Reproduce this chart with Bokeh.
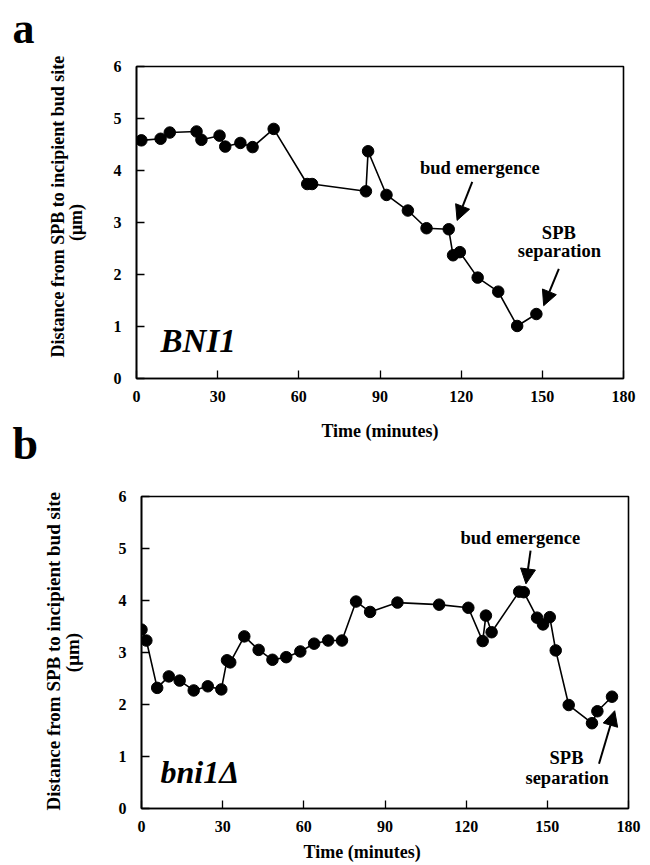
from bokeh.plotting import figure
from bokeh.models import Label, Arrow, NormalHead, FixedTicker, Range1d, Title
from bokeh.layouts import column
from bokeh.embed import file_html
from bokeh.resources import INLINE

FONT = "Liberation Serif"

# ---- data ----
a_time = [1.8, 8.9, 12.3, 22.2, 24.0, 30.7, 32.8, 38.4, 42.9, 50.7, 63.1, 64.9,
          84.8, 85.6, 92.4, 100.3, 107.2, 115.4, 117.0, 119.5, 126.1, 133.7, 140.7, 147.8]
a_dist = [4.58, 4.61, 4.73, 4.75, 4.59, 4.67, 4.46, 4.53, 4.45, 4.80, 3.74, 3.74,
          3.60, 4.37, 3.53, 3.23, 2.89, 2.87, 2.37, 2.43, 1.94, 1.67, 1.01, 1.24]

b_time = [0.0, 1.8, 5.8, 10.1, 14.1, 19.3, 24.5, 29.5, 31.6, 32.8, 38.0, 43.3,
          48.4, 53.5, 58.7, 63.8, 69.0, 74.1, 79.3, 84.5, 94.6, 110.0, 120.8, 126.1,
          127.3, 129.4, 139.6, 141.3, 146.2, 148.4, 150.9, 153.1, 157.9, 166.5, 168.5, 173.9]
b_dist = [3.44, 3.23, 2.32, 2.54, 2.46, 2.27, 2.35, 2.29, 2.85, 2.81, 3.31, 3.05,
          2.86, 2.91, 3.02, 3.17, 3.23, 3.23, 3.98, 3.78, 3.96, 3.92, 3.86, 3.22,
          3.71, 3.39, 4.17, 4.16, 3.67, 3.54, 3.68, 3.04, 1.99, 1.64, 1.87, 2.15]

x_ticks = [0, 30, 60, 90, 120, 150, 180]
y_ticks = [0, 1, 2, 3, 4, 5, 6]

x_label = "Time (minutes)"
y_label_1 = "Distance from SPB to incipient bud site"
y_label_2 = "(\u03bcm)"
a_name = "BNI1"
b_name = "bni1\u0394"
bud_text = "bud emergence"
spb_text = ["SPB", "separation"]


def make_panel(t, d, left, right, top, bottom, unit_size, unit_standoff):
    p = figure(frame_width=487, frame_height=312,
               x_range=Range1d(0, 180), y_range=Range1d(0, 6),
               output_backend="svg", toolbar_location=None,
               min_border_left=left, min_border_right=right,
               min_border_top=top, min_border_bottom=bottom)
    p.grid.visible = False
    p.outline_line_color = "black"
    p.outline_line_width = 1.6
    p.background_fill_color = "white"
    p.border_fill_color = None
    for ax in (p.xaxis[0], p.yaxis[0]):
        ax.axis_line_color = "black"
        ax.axis_line_width = 1.6
        ax.major_tick_in = 8
        ax.major_tick_out = 0
        ax.major_tick_line_width = 1.3
        ax.minor_tick_line_color = None
        ax.major_label_text_font = FONT
        ax.major_label_text_font_style = "bold"
        ax.major_label_text_font_size = "16px"
        ax.major_label_text_color = "black"
    p.xaxis[0].ticker = FixedTicker(ticks=x_ticks)
    p.yaxis[0].ticker = FixedTicker(ticks=y_ticks)
    p.xaxis[0].major_label_standoff = 12
    p.yaxis[0].major_label_standoff = 15
    yax = p.yaxis[0]
    yax.axis_label = y_label_2
    yax.axis_label_standoff = unit_standoff
    yax.axis_label_text_font = FONT
    yax.axis_label_text_font_style = "bold"
    yax.axis_label_text_font_size = unit_size
    yax.axis_label_text_color = "black"

    p.line(t, d, line_color="black", line_width=1.6)
    p.scatter(t, d, size=11.5, fill_color="black", line_color="black")
    return p


def title(p, s, side, size, align="left", offset=0, standoff=0, valign="bottom"):
    kw = dict(text=s, align=align, offset=offset, vertical_align=valign,
              text_font=FONT, text_font_style="bold",
              text_font_size=size, text_color="black")
    try:
        t = Title(standoff=standoff, **kw)
    except Exception:
        t = Title(standoff=0, **kw)
    p.add_layout(t, side)


def text(p, x, y, s, size, style="bold", align="center"):
    p.add_layout(Label(x=x, y=y, text=s,
                       text_font=FONT, text_font_style=style,
                       text_font_size=size, text_color="black",
                       text_align=align, text_baseline="middle"))


def arrow(p, x0, y0, x1, y1):
    p.add_layout(Arrow(x_start=x0, y_start=y0, x_end=x1, y_end=y1,
                       line_color="black", line_width=2,
                       end=NormalHead(size=15, fill_color="black",
                                      line_color="black", line_width=1)))


# ---- panel a ----
pa = make_panel(a_time, a_dist, left=136, right=28, top=84, bottom=88,
                unit_size="18px", unit_standoff=25)
pa.margin = (-18, 0, 0, 0)
title(pa, "a", "above", "44px", offset=-124, standoff=28)
title(pa, y_label_1, "left", "18px", offset=21, standoff=-10)
title(pa, x_label, "below", "18px", align="center", standoff=33, valign="top")
text(pa, 8.9, 0.715, a_name, "33px", style="bold italic", align="left")
text(pa, 126.9, 4.05, bud_text, "18.5px")
text(pa, 156.1, 2.80, spb_text[0], "18.5px")
text(pa, 156.3, 2.45, spb_text[1], "18.5px")
arrow(pa, 124.1, 3.78, 118.5, 3.04)
arrow(pa, 156.1, 2.11, 150.5, 1.40)

# ---- panel b ----
pb = make_panel(b_time, b_dist, left=136, right=22, top=112, bottom=57,
                unit_size="19px", unit_standoff=33)
pb.margin = (-82, 0, 0, 5)
title(pb, "b", "above", "46px", offset=-129, standoff=56)
title(pb, y_label_1, "left", "19px", offset=-2, standoff=-10)
title(pb, x_label, "below", "18px", offset=162, standoff=14, valign="top")
text(pb, 7.0, 0.71, b_name, "32px", style="bold italic", align="left")
text(pb, 140.0, 5.21, bud_text, "18.5px")
text(pb, 157.1, 0.98, spb_text[0], "18.5px")
text(pb, 157.3, 0.59, spb_text[1], "18.5px")
arrow(pb, 143.8, 4.96, 142.1, 4.32)
arrow(pb, 169.1, 0.86, 174.9, 1.88)

layout = column(pa, pb, spacing=0)
open("out.html", "w").write(file_html(layout, INLINE))
